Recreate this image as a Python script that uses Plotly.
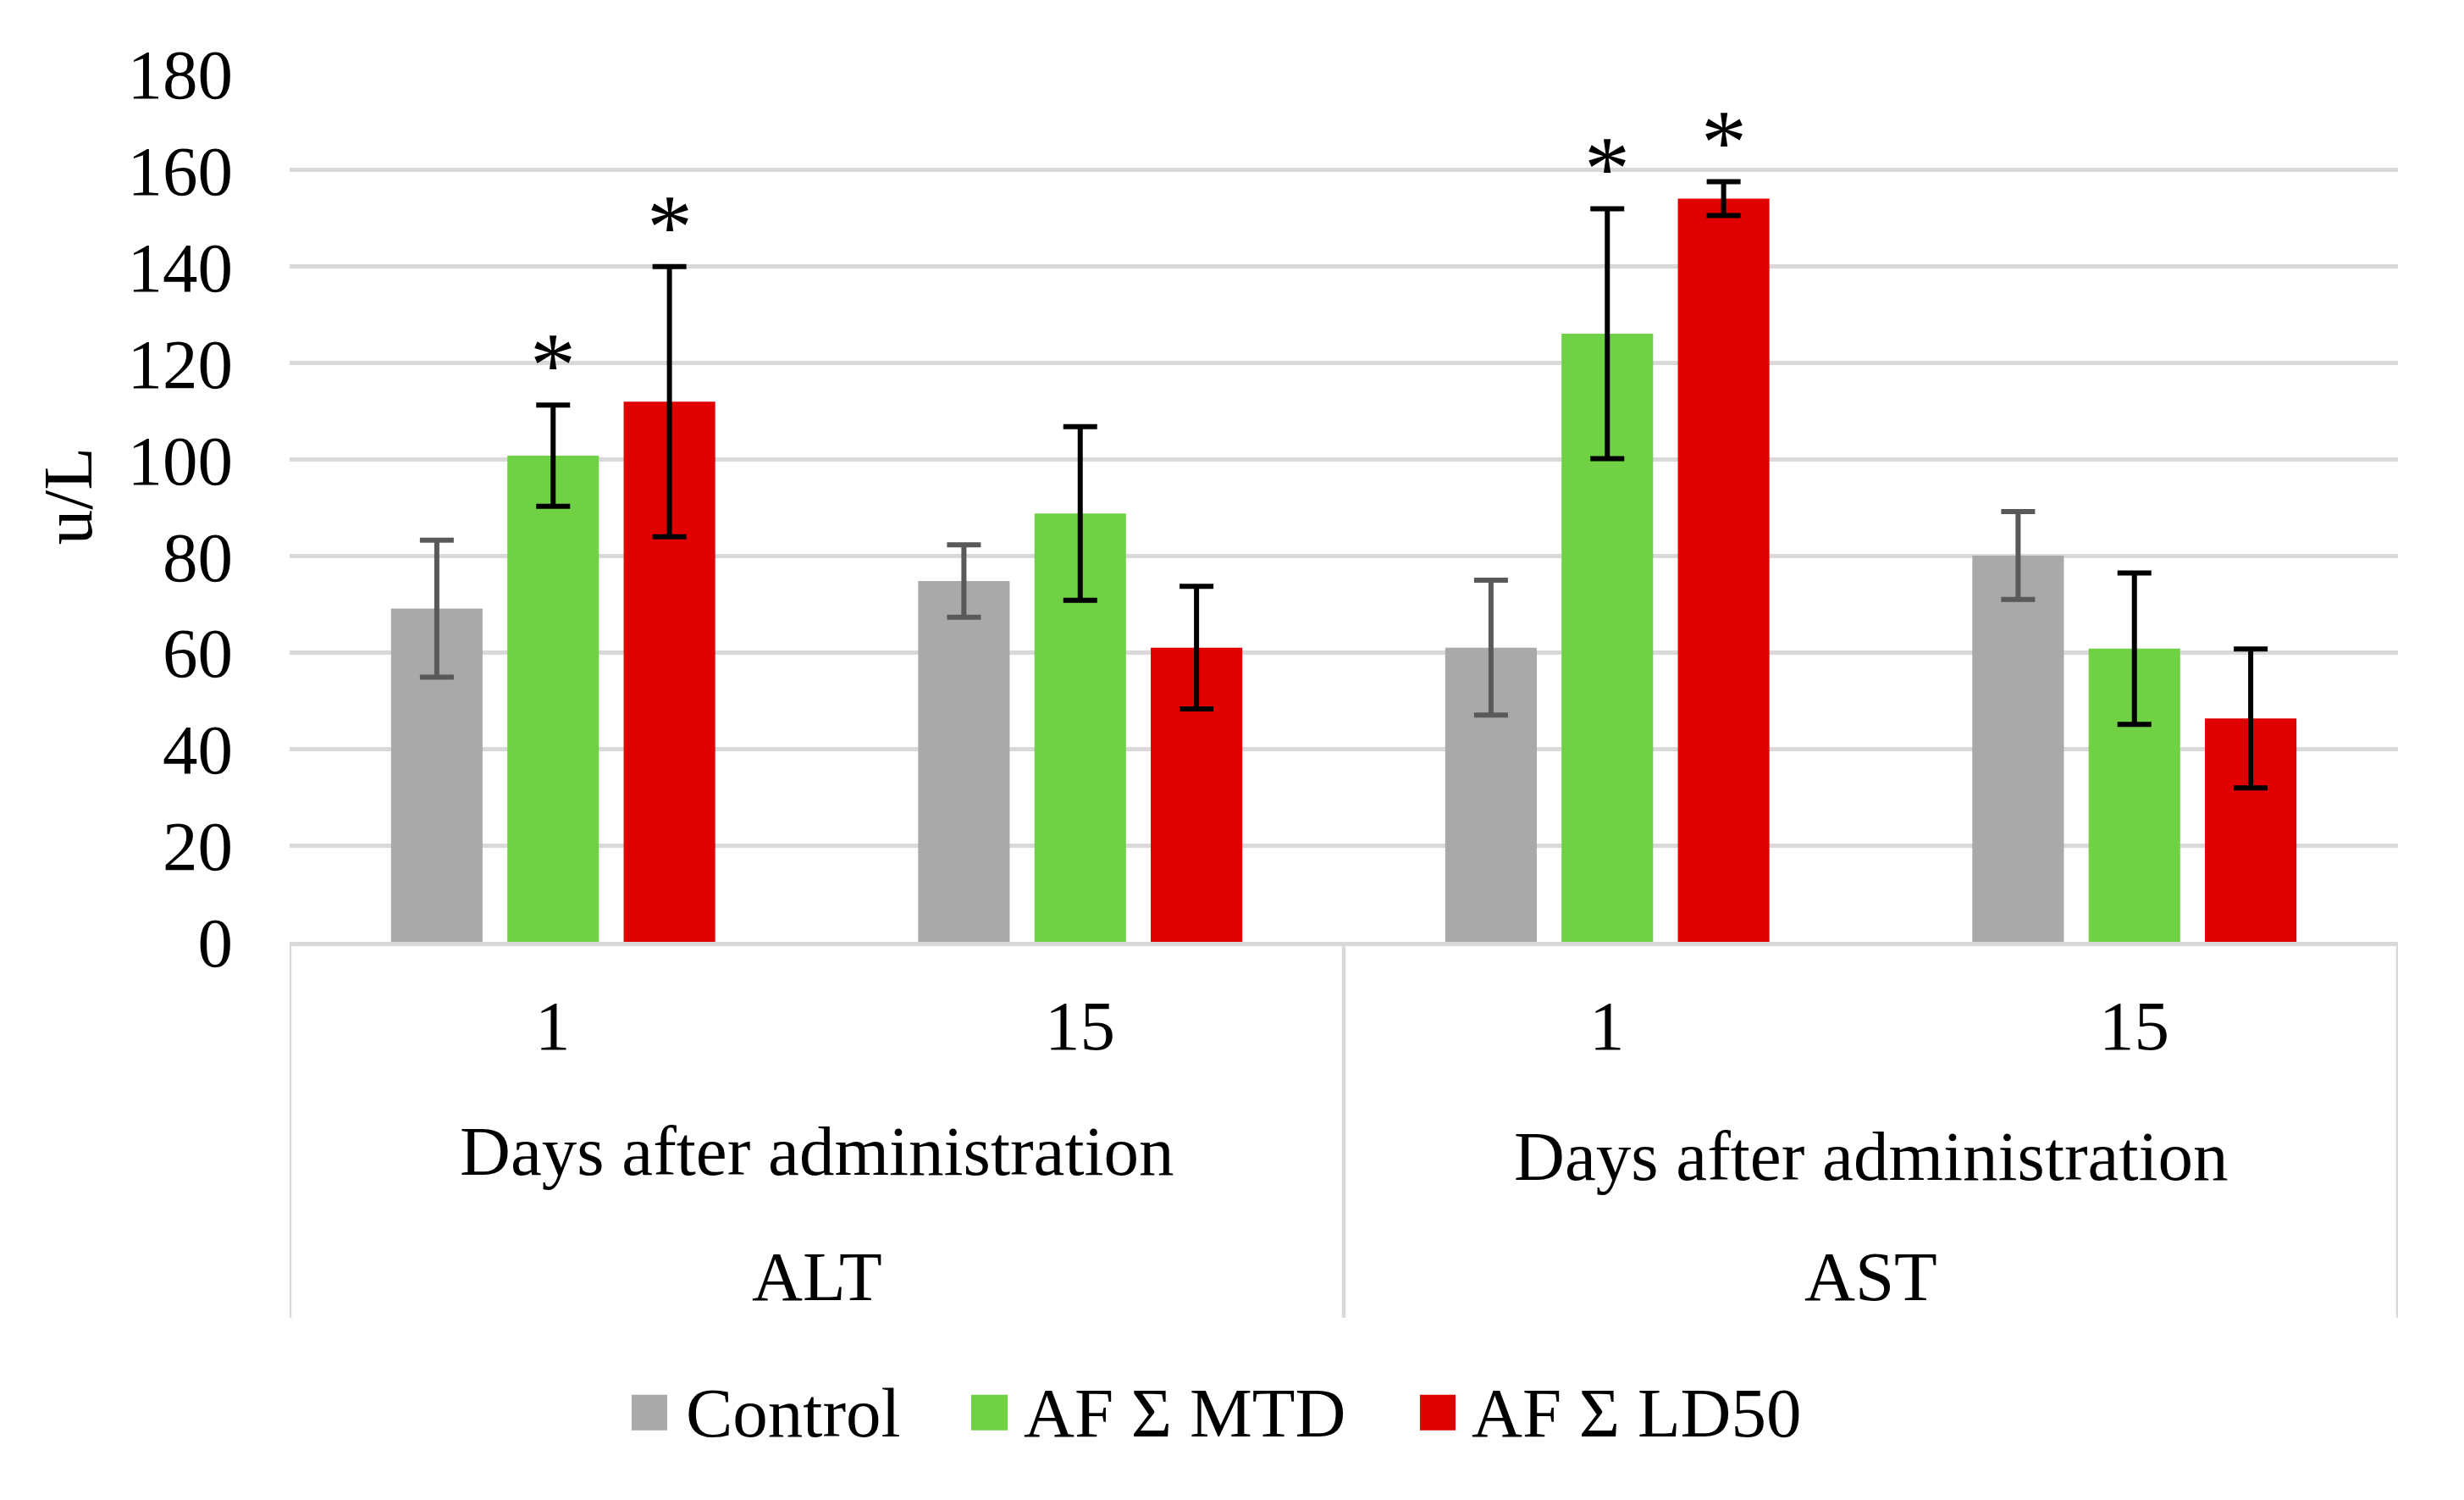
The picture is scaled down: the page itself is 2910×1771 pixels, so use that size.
import plotly.graph_objects as go

# ---------------- data ----------------
enzymes = ["ALT", "AST"]
days = ["1", "15", "1", "15"]
group_label = "Days after administration"
series_names = ["Control", "AF \u03a3 MTD", "AF \u03a3 LD50"]

control_mean = [69.1, 74.8, 61.0, 80.1]
control_err = [14.2, 7.5, 14.0, 9.1]
mtd_mean = [100.8, 88.8, 126.1, 60.8]
mtd_err = [10.5, 18.0, 25.9, 15.7]
ld50_mean = [112.0, 61.0, 154.1, 46.3]
ld50_err = [28.0, 12.7, 3.5, 14.4]

control_sig = [False, False, False, False]
mtd_sig = [True, False, True, False]
ld50_sig = [True, False, True, False]

y_ticks = [0, 20, 40, 60, 80, 100, 120, 140, 160, 180]
y_title = "u/L"

# ---------------- style ----------------
FONT = "Liberation Serif, Times New Roman, serif"
FS = 83
bar_colors = ["#a9a9a9", "#6fd143", "#e00000"]
err_colors = ["#595959", "#000000", "#000000"]
GRID = "#d9d9d9"
BARGAP = 0.338
BARGROUPGAP = 0.213

means = [control_mean, mtd_mean, ld50_mean]
errs = [control_err, mtd_err, ld50_err]
sigs = [control_sig, mtd_sig, ld50_sig]
xpos = list(range(len(days)))

fig = go.Figure()
for name, m, e, c, ec in zip(series_names, means, errs, bar_colors, err_colors):
    fig.add_trace(go.Bar(
        x=xpos, y=m, name=name, marker=dict(color=c, line=dict(width=0)),
        error_y=dict(type="data", array=e, visible=True, color=ec,
                     thickness=6, width=20),
        showlegend=False,
    ))

annotations = []
shapes = []

# significance stars
nser = len(series_names)
slot = (1 - BARGAP) / nser
for s in range(nser):
    for i in xpos:
        if sigs[s][i]:
            annotations.append(dict(
                x=i + (s - (nser - 1) / 2) * slot, y=means[s][i] + errs[s][i],
                xref="x", yref="y", text="*", showarrow=False,
                yanchor="bottom", yshift=-14,
                font=dict(family=FONT, size=108, color="black")))

# category table under the axis
for i, d in enumerate(days):
    annotations.append(dict(x=i, y=-0.0965, xref="x", yref="paper", text=d,
                            showarrow=False, yanchor="middle",
                            font=dict(family=FONT, size=FS, color="black")))
days_y = [-0.241, -0.247]
for k, enz in enumerate(enzymes):
    cx = 2 * k + 0.5
    annotations.append(dict(x=cx, y=days_y[k], xref="x", yref="paper",
                            text=group_label, showarrow=False, yanchor="middle",
                            font=dict(family=FONT, size=FS, color="black")))
    annotations.append(dict(x=cx, y=-0.385, xref="x", yref="paper",
                            text=enz, showarrow=False, yanchor="middle",
                            font=dict(family=FONT, size=FS, color="black")))
for xb in [-0.5, 1.5, 3.5]:
    shapes.append(dict(type="line", xref="x", yref="paper", x0=xb, x1=xb,
                       y0=0, y1=-0.433, line=dict(color=GRID, width=4.5)))

# y-axis title
annotations.append(dict(x=-0.1052, y=0.513, xref="paper", yref="paper",
                        text=y_title, textangle=-90, showarrow=False,
                        xanchor="center", yanchor="middle",
                        font=dict(family=FONT, size=FS, color="black")))

# legend (manual, large swatches)
leg_sq = [(0.1622, 0.1791), (0.3233, 0.3406), (0.5361, 0.5530)]
leg_tx = [0.1871, 0.3474, 0.5598]
for name, c, (a, b), tx in zip(series_names, bar_colors, leg_sq, leg_tx):
    shapes.append(dict(type="rect", xref="paper", yref="paper", x0=a, x1=b,
                       y0=-0.5627, y1=-0.5217, fillcolor=c, line=dict(width=0)))
    annotations.append(dict(x=tx, y=-0.5422, xref="paper", yref="paper",
                            text=name, showarrow=False, xanchor="left",
                            yanchor="middle",
                            font=dict(family=FONT, size=FS, color="black")))

fig.update_layout(
    width=2902, height=1763,
    margin=dict(l=334, r=78, t=79, b=658.5, autoexpand=False),
    paper_bgcolor="white", plot_bgcolor="white",
    barmode="group", bargap=BARGAP, bargroupgap=BARGROUPGAP,
    font=dict(family=FONT, size=FS, color="black"),
    annotations=annotations, shapes=shapes, showlegend=False,
    xaxis=dict(range=[-0.5, 3.5], showticklabels=False, showgrid=False,
               zeroline=False, showline=True, linecolor=GRID, linewidth=5,
               ticks=""),
    yaxis=dict(range=[0, 180], tickvals=y_ticks, showgrid=True,
               gridcolor=GRID, gridwidth=4.5, zeroline=False, showline=False,
               ticks="", ticklabelstandoff=66,
               tickfont=dict(family=FONT, size=FS, color="black")),
)

fig.write_html("out.html")
